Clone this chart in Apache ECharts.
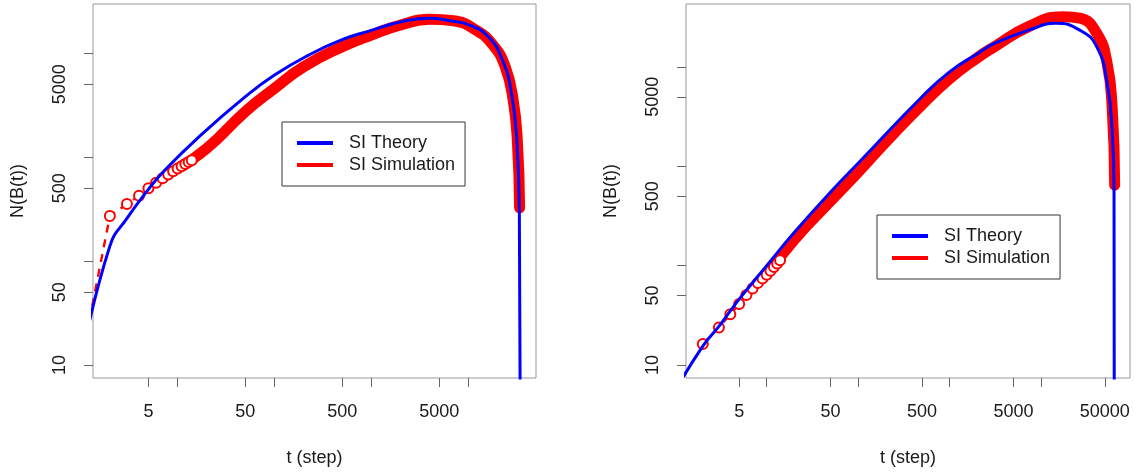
<!DOCTYPE html>
<html>
<head>
<meta charset="utf-8">
<script src="https://cdn.jsdelivr.net/npm/echarts@6/dist/echarts.min.js"></script>
<style>html,body{margin:0;padding:0;background:#fff}#c{width:1134px;height:475px}</style>
</head>
<body>
<div id="c"></div>
<script>
// ---- data ----
const xTicks = [5, 10, 50, 100, 500, 1000, 5000, 10000, 50000];
const xTickLabels = [5, 50, 500, 5000, 50000];
const yTicks = [10, 50, 100, 500, 1000, 5000, 10000];
const yTickLabels = [10, 50, 500, 5000];

const leftTheoryT = [1, 2, 3, 5, 7.4, 16, 50, 100, 225, 505, 1016, 1740, 2920, 4000, 6460, 10200, 16000, 22500, 27900, 31600, 33600, 34500];
const leftTheoryN = [10.5, 139, 257, 489, 750, 1514, 3800, 6140, 9550, 13500, 16600, 19300, 21200, 21600, 20400, 18600, 14400, 8570, 4080, 1456, 288, 1];
const leftSimCircleT = [1, 2, 3, 4, 5, 6, 7, 8, 9, 10, 11, 12, 13, 14];
const leftSimCircleN = [10, 271, 353, 425, 500, 566, 624, 680, 730, 775, 815, 855, 895, 930];
const leftSimBandT = [10, 20, 50, 100, 200, 500, 1000, 2000, 4000, 7000, 12000, 18000, 24000, 29000, 32000, 33800];
const leftSimBandN = [775, 1210, 2730, 4570, 7380, 11500, 14900, 18600, 21100, 20400, 16600, 11900, 7380, 3530, 1460, 325];

const rightTheoryT = [1, 2, 3, 4, 5, 10, 20, 50, 100, 500, 1000, 2000, 3090, 7310, 14500, 26600, 40800, 53000, 60300, 63000, 63500];
const rightTheoryN = [5.5, 15.5, 24.5, 35, 46, 100, 215, 550, 1070, 5000, 8900, 13500, 17200, 23400, 27400, 23400, 15900, 6820, 2140, 575, 1];
const rightSimCircleT = [2, 3, 4, 5, 6, 7, 8, 9, 10, 11, 12, 13, 14];
const rightSimCircleN = [16.3, 23.9, 32.4, 41, 50.6, 59, 67, 74, 81, 89, 97, 105, 113];
const rightSimBandT = [10, 20, 50, 100, 200, 500, 1000, 2000, 3090, 7310, 17300, 26600, 40800, 53000, 60300, 64000];
const rightSimBandN = [81, 182, 447, 870, 1740, 4170, 7590, 12300, 15900, 25400, 32000, 30900, 21700, 10800, 3670, 645];

const seriesNames = ['SI Theory', 'SI Simulation'];
// ---------------------------------------

const FONT = 'Liberation Sans, Arial, sans-serif';
const TXT = '#1a1a1a';
const BLUE = '#0000ff', RED = '#ff0000';
const zip = (a, b) => a.map((v, i) => [v, b[i]]);

function xAxisCfg(gi, min, max) {
  return {
    type: 'log', gridIndex: gi, min: min, max: max,
    name: 't (step)', nameLocation: 'middle', nameGap: 71,
    nameTextStyle: {fontSize: 18, color: TXT, fontFamily: FONT},
    axisLine: {show: false}, splitLine: {show: false}, minorTick: {show: false},
    axisTick: {show: true, length: 9, customValues: xTicks, lineStyle: {color: '#666', width: 1}},
    axisLabel: {customValues: xTickLabels, margin: 25, fontSize: 18, color: TXT, fontFamily: FONT,
      formatter: v => String(Math.round(v))}
  };
}
function yAxisCfg(gi, min, max) {
  return {
    type: 'log', gridIndex: gi, min: min, max: max,
    name: 'N(B(t))', nameLocation: 'middle', nameGap: 66, nameRotate: 90,
    nameTextStyle: {fontSize: 18, color: TXT, fontFamily: FONT},
    axisLine: {show: false}, splitLine: {show: false}, minorTick: {show: false},
    axisTick: {show: true, length: 9, customValues: yTicks, lineStyle: {color: '#666', width: 1}},
    axisLabel: {customValues: yTickLabels, margin: 24, rotate: 90, fontSize: 18, color: TXT, fontFamily: FONT,
      formatter: v => String(Math.round(v))}
  };
}
function circles(gi, t, n) {
  return {
    name: 'sim-points', type: 'line', xAxisIndex: gi, yAxisIndex: gi,
    data: zip(t, n), symbol: 'emptyCircle', symbolSize: 10, showSymbol: true, showAllSymbol: true,
    itemStyle: {color: RED, borderColor: RED, borderWidth: 2.2},
    lineStyle: {color: RED, width: 2.4, type: [8, 7]},
    emphasis: {disabled: true}, clip: true, z: 2
  };
}
function band(gi, t, n) {
  return {
    name: seriesNames[1], type: 'line', xAxisIndex: gi, yAxisIndex: gi,
    data: zip(t, n), symbol: 'none', smooth: 0.5,
    itemStyle: {color: RED},
    lineStyle: {color: RED, width: 11, cap: 'round', join: 'round'},
    emphasis: {disabled: true}, clip: true, z: 2
  };
}
function theory(gi, t, n) {
  return {
    name: seriesNames[0], type: 'line', xAxisIndex: gi, yAxisIndex: gi,
    data: zip(t, n), symbol: 'none', smooth: 0.5,
    itemStyle: {color: BLUE},
    lineStyle: {color: BLUE, width: 3},
    emphasis: {disabled: true}, clip: true, z: 3
  };
}
function legendCfg(left, top) {
  return {
    data: seriesNames, left: left, top: top, orient: 'vertical',
    icon: 'rect', itemWidth: 36, itemHeight: 4, itemGap: 4,
    backgroundColor: '#fff', borderColor: '#333', borderWidth: 1, borderRadius: 0,
    padding: [12, 10, 12, 15],
    textStyle: {fontSize: 18, color: TXT, fontFamily: FONT, padding: [0, 0, 0, 11]},
    selectedMode: false
  };
}

const chart = echarts.init(document.getElementById('c'), null, {renderer: 'canvas'});
chart.setOption({
  animation: false,
  backgroundColor: '#fff',
  grid: [
    {left: 93, top: 4, width: 443, height: 374, show: true, borderColor: '#999', borderWidth: 1, backgroundColor: 'transparent', containLabel: false, outerBoundsMode: 'none'},
    {left: 686, top: 4, width: 444, height: 374, show: true, borderColor: '#999', borderWidth: 1, backgroundColor: 'transparent', containLabel: false, outerBoundsMode: 'none'}
  ],
  xAxis: [xAxisCfg(0, 1.34, 49900), xAxisCfg(1, 1.31, 94200)],
  yAxis: [yAxisCfg(0, 7.5, 29600), yAxisCfg(1, 7.4, 42900)],
  legend: [legendCfg(282, 122), legendCfg(877, 215)],
  series: [
    circles(0, leftSimCircleT, leftSimCircleN),
    band(0, leftSimBandT, leftSimBandN),
    theory(0, leftTheoryT, leftTheoryN),
    circles(1, rightSimCircleT, rightSimCircleN),
    band(1, rightSimBandT, rightSimBandN),
    theory(1, rightTheoryT, rightTheoryN)
  ]
});
</script>
</body>
</html>
